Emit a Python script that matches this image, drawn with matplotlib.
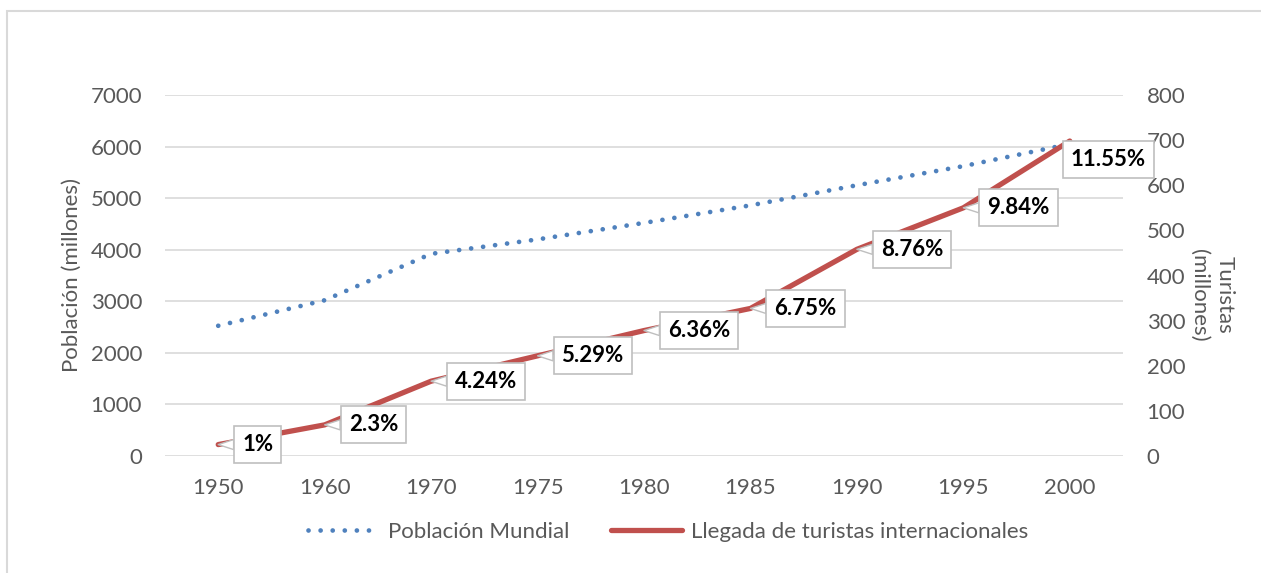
import matplotlib.pyplot as plt
from matplotlib.lines import Line2D
from matplotlib.patches import Rectangle

# data
years = ['1950', '1960', '1970', '1975', '1980', '1985', '1990', '1995', '2000']
poblacion = [2525, 3020, 3920, 4200, 4520, 4860, 5250, 5620, 6050]      # millones
turistas = [25.3, 69, 165.8, 222, 278, 327, 458, 550, 698]              # millones
crecimiento = ['1%', '2.3%', '4.24%', '5.29%', '6.36%', '6.75%', '8.76%', '9.84%', '11.55%']

BLUE = '#4f81bd'
RED = '#c0504d'
GRID = '#d9d9d9'
TXT = '#595959'
FS = 16

plt.rcParams['font.family'] = ['Lato', 'DejaVu Sans']

W, H = 1261, 573
fig = plt.figure(figsize=(W / 100, H / 100), dpi=100)

# outer chart border
fig.patches.append(Rectangle((6.5 / W, -0.05), 1.2, 1 - 10.5 / H + 0.05,
                             transform=fig.transFigure, fill=False,
                             ec=GRID, lw=1.5, zorder=0))

ax = fig.add_axes([165 / W, 1 - 456 / H, (1123 - 165) / W, (456 - 95) / H])
ax2 = ax.twinx()

x = list(range(len(years)))
ax.plot(x, poblacion, color=BLUE, lw=3.4, linestyle=(0, (0.01, 2.55)),
        dash_capstyle='round', zorder=3)
ax2.plot(x, turistas, color=RED, lw=3.8, solid_capstyle='round', zorder=3)

ax.set_xlim(-0.5, len(years) - 0.5)
ax.set_ylim(0, 7000)
ax2.set_ylim(0, 800)
ax.set_yticks(range(0, 7001, 1000))
ax2.set_yticks(range(0, 801, 100))
ax.set_xticks(x)
ax.set_xticklabels(years)

ax.grid(axis='y', color=GRID, lw=1.2)
ax.set_axisbelow(True)
for a in (ax, ax2):
    for s in a.spines.values():
        s.set_visible(False)
ax.tick_params(axis='y', length=0, pad=16.5, labelsize=FS, labelcolor=TXT)
ax.tick_params(axis='x', length=0, pad=15.5, labelsize=FS, labelcolor=TXT)
ax2.tick_params(axis='y', length=0, pad=17, labelsize=FS, labelcolor=TXT)

# data labels (callouts)
offsets = [(24, 0)] * 8 + [(1, -18)]
for i, (lab, v) in enumerate(zip(crecimiento, turistas)):
    dx, dy = offsets[i]
    ax2.annotate(lab, xy=(i, v), xytext=(dx, dy), textcoords='offset pixels',
                 ha='left', va='center', fontsize=FS, fontweight='bold',
                 color='black', zorder=5,
                 bbox=dict(boxstyle='square,pad=0.36', fc='white',
                           ec='#bfbfbf', lw=1.2),
                 arrowprops=dict(arrowstyle='wedge,tail_width=0.45,shrink_factor=0.5',
                                 fc='white', ec='#bfbfbf', lw=1,
                                 shrinkA=0, shrinkB=0))

fig.text(72 / W, 1 - 275.5 / H, 'Población (millones)', rotation=90,
         ha='center', va='center', fontsize=FS, color=TXT)
fig.text(1212 / W, 1 - 295 / H, 'Turistas\n(millones)', rotation=-90,
         ha='center', va='center', multialignment='center',
         fontsize=FS, color=TXT, linespacing=1.3)

handles = [
    Line2D([], [], color=BLUE, lw=3.4, linestyle=(0, (0.01, 2.55)),
           dash_capstyle='round'),
    Line2D([], [], color=RED, lw=3.8, solid_capstyle='round'),
]
fig.legend(handles, ['Población Mundial', 'Llegada de turistas internacionales'],
           loc='center', bbox_to_anchor=(668 / W, 1 - 531.7 / H), ncol=2,
           frameon=False, fontsize=FS, labelcolor=TXT, handlelength=3.2,
           handletextpad=0.4, columnspacing=1.9)

fig.savefig('out.png', dpi=100)
